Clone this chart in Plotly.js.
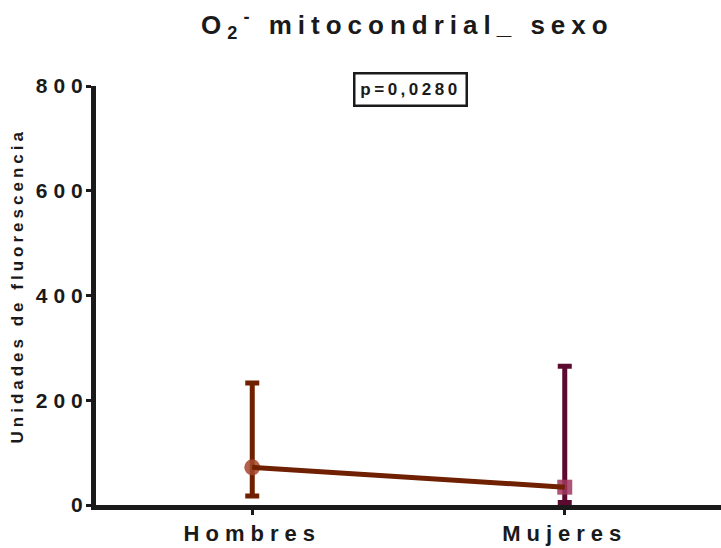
<!DOCTYPE html>
<html>
<head>
<meta charset="utf-8">
<script src="https://cdn.plot.ly/plotly-3.0.1.min.js"></script>
<style>
html,body{margin:0;padding:0;background:#fff;}
#chart{width:721px;height:548px;}
.main-svg .gtitle{letter-spacing:6px;}
.main-svg .xtick text{letter-spacing:6px;}
.main-svg .ytick text{letter-spacing:6px;}
.main-svg .annotation[data-index="0"] text{letter-spacing:3.5px;}
.main-svg .annotation[data-index="1"] text{letter-spacing:4px;}
</style>
</head>
<body>
<div id="chart"></div>
<script>
var categories = ["Hombres", "Mujeres"];
var meanValues = [72, 34];
var upperValues = [233, 265];
var lowerValues = [17, 5];
var yTickValues = [0, 200, 400, 600, 800];
var pText = "p=0,0280";
var yTitle = "Unidades de fluorescencia";

var font = "Liberation Sans, Arial, sans-serif";
var colors = {
  hombresBar: "#6e2000",
  hombresMarker: "rgba(165,70,45,0.85)",
  mujeresBar: "#5c0a30",
  mujeresMarker: "rgba(160,55,95,0.85)",
  line: "#6e2000",
  axis: "#1a1a1a"
};

function pointTrace(i, barColor, markerColor, symbol, size) {
  return {
    type: "scatter", mode: "markers",
    x: [categories[i]], y: [meanValues[i]],
    marker: {color: markerColor, size: size, symbol: symbol},
    error_y: {
      type: "data", symmetric: false,
      array: [upperValues[i] - meanValues[i]],
      arrayminus: [meanValues[i] - lowerValues[i]],
      color: barColor, thickness: 5, width: 7
    },
    showlegend: false, hoverinfo: "skip", cliponaxis: false
  };
}

var traces = [
  pointTrace(0, colors.hombresBar, colors.hombresMarker, "circle", 16),
  pointTrace(1, colors.mujeresBar, colors.mujeresMarker, "square", 15),
  {
    type: "scatter", mode: "lines",
    x: categories, y: meanValues,
    line: {color: colors.line, width: 5},
    showlegend: false, hoverinfo: "skip", cliponaxis: false
  }
];

var layout = {
  width: 721, height: 548,
  margin: {l: 96, r: 0, t: 86, b: 43},
  paper_bgcolor: "#fff", plot_bgcolor: "#fff",
  font: {family: font, color: "#1a1a1a"},
  title: {
    text: "O<sub>2</sub><sup>-</sup> mitocondrial_ sexo",
    font: {family: font, size: 26, weight: 700, color: "#1a1a1a"},
    x: 0.565, xanchor: "center", y: 0.955, yanchor: "middle"
  },
  xaxis: {
    type: "category", range: [-0.5, 1.5],
    showline: true, linecolor: colors.axis, linewidth: 5,
    ticks: "outside", ticklen: 5, tickwidth: 3, tickcolor: colors.axis,
    tickfont: {family: font, size: 22, weight: 700, color: "#1a1a1a"},
    showgrid: false, zeroline: false, fixedrange: true
  },
  yaxis: {
    range: [0, 800],
    tickvals: yTickValues,
    showline: true, linecolor: colors.axis, linewidth: 5,
    ticks: "outside", ticklen: 5, tickwidth: 3, tickcolor: colors.axis,
    ticklabelstandoff: -7,
    tickfont: {family: font, size: 21, weight: 700, color: "#1a1a1a"},
    showgrid: false, zeroline: false, fixedrange: true
  },
  annotations: [{
    xref: "paper", yref: "paper",
    x: 0.5024, y: 0.9916, xanchor: "center", yanchor: "middle",
    text: pText, showarrow: false,
    width: 102, height: 22, align: "center", valign: "middle",
    font: {family: font, size: 17, weight: 700, color: "#1a1a1a"},
    bordercolor: "#1a1a1a", borderwidth: 2.5, borderpad: 4, bgcolor: "#fff"
  }, {
    xref: "paper", yref: "paper",
    x: 0, y: 0.5, xanchor: "center", yanchor: "middle",
    xshift: -79, yshift: 10, textangle: -90,
    text: yTitle, showarrow: false,
    font: {family: font, size: 17, weight: 700, color: "#1a1a1a"}
  }]
};

Plotly.newPlot("chart", traces, layout, {displayModeBar: false, staticPlot: true});
</script>
</body>
</html>
